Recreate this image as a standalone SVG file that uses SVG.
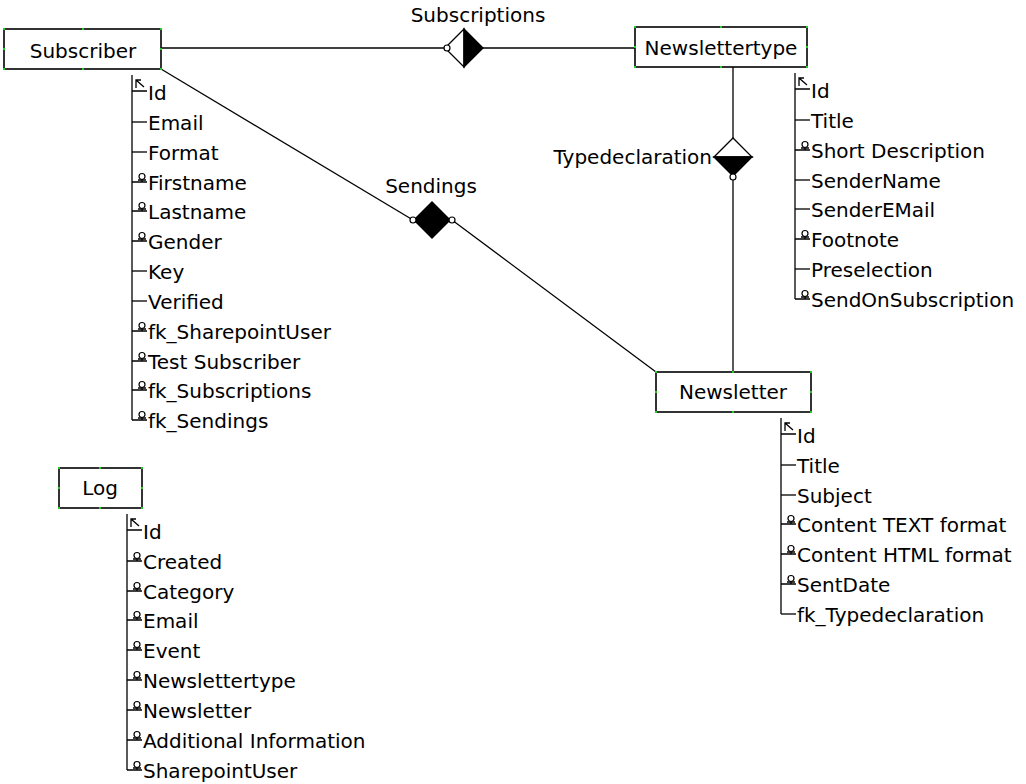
<svg xmlns="http://www.w3.org/2000/svg" xmlns:xlink="http://www.w3.org/1999/xlink" width="1026" height="784" viewBox="0 0 1026 784">
<style>
text{font-family:"DejaVu Sans","Liberation Sans",sans-serif;font-size:20px;fill:#000}
.box{fill:#fff;stroke:#000;stroke-width:1.6}
.ln{fill:none;stroke:#000;stroke-width:1.3}
.h{fill:#22cc22}
.c{text-anchor:middle}
.e{text-anchor:end}
</style>
<defs>
<g id="pk"><path class="ln" d="M0,0 H15 M4,-3 V-11 H9 M4,-11 L12,-4"/></g>
<g id="nl"><path class="ln" d="M0,0 H15 M10,-2.5 V0 M6,-2 H14"/><circle cx="10" cy="-5.5" r="3" fill="#fff" stroke="#000" stroke-width="1.2"/></g>
<g id="pl"><path class="ln" d="M0,0 H15"/></g>
</defs>

<g id="connectors">
  <g id="subscriptions">
    <line class="ln" x1="161" y1="48" x2="635" y2="48" stroke-width="1.6"/>
    <path d="M464,29 L445,48 L464,67 Z" fill="#fff" stroke="#000" stroke-width="1.3"/>
    <path d="M464,29 L483,48 L464,67 Z" fill="#000" stroke="#000" stroke-width="1.3"/>
    <circle cx="447" cy="48" r="3" fill="#fff" stroke="#000" stroke-width="1.2"/>
    <text class="c" x="478" y="22">Subscriptions</text>
  </g>
  <g id="typedeclaration">
    <line class="ln" x1="733" y1="67" x2="733" y2="372" stroke-width="1.6"/>
    <path d="M714,157 L733,138 L752,157 Z" fill="#fff" stroke="#000" stroke-width="1.3"/>
    <path d="M714,157 L733,176 L752,157 Z" fill="#000" stroke="#000" stroke-width="1.3"/>
    <circle cx="733" cy="177" r="3" fill="#fff" stroke="#000" stroke-width="1.2"/>
    <text class="e" x="712" y="164">Typedeclaration</text>
  </g>
  <g id="sendings">
    <line class="ln" x1="161" y1="69" x2="413" y2="220" stroke-width="1.1"/>
    <line class="ln" x1="452" y1="220" x2="656" y2="372" stroke-width="1.1"/>
    <path d="M432,201 L451,220 L432,239 L413,220 Z" fill="#000"/>
    <circle cx="413" cy="220" r="3" fill="#fff" stroke="#000" stroke-width="1.2"/>
    <circle cx="452" cy="220" r="3" fill="#fff" stroke="#000" stroke-width="1.2"/>
    <text class="c" x="431" y="193">Sendings</text>
  </g>
</g>

<g id="subscriber">
  <rect class="box" x="4" y="29" width="157" height="40"/>
  <g class="h"><rect x="3" y="28" width="2" height="2"/><rect x="82" y="28" width="2" height="2"/><rect x="160" y="28" width="2" height="2"/><rect x="3" y="48" width="2" height="2"/><rect x="160" y="48" width="2" height="2"/><rect x="3" y="68" width="2" height="2"/><rect x="82" y="68" width="2" height="2"/><rect x="160" y="68" width="2" height="2"/></g>
  <text class="c" x="83" y="58">Subscriber</text>
  <line class="ln" x1="132" y1="75" x2="132" y2="420"/>
  <use xlink:href="#pk" x="132" y="91"/><text x="148" y="100">Id</text>
  <use xlink:href="#pl" x="132" y="122"/><text x="148" y="130">Email</text>
  <use xlink:href="#pl" x="132" y="152"/><text x="148" y="160">Format</text>
  <use xlink:href="#nl" x="132" y="182"/><text x="148" y="190">Firstname</text>
  <use xlink:href="#nl" x="132" y="211"/><text x="148" y="219">Lastname</text>
  <use xlink:href="#nl" x="132" y="241"/><text x="148" y="249">Gender</text>
  <use xlink:href="#pl" x="132" y="271"/><text x="148" y="279">Key</text>
  <use xlink:href="#pl" x="132" y="301"/><text x="148" y="309">Verified</text>
  <use xlink:href="#nl" x="132" y="331"/><text x="148" y="339">fk_SharepointUser</text>
  <use xlink:href="#nl" x="132" y="361"/><text x="148" y="369">Test Subscriber</text>
  <use xlink:href="#nl" x="132" y="390"/><text x="148" y="398">fk_Subscriptions</text>
  <use xlink:href="#nl" x="132" y="420"/><text x="148" y="428">fk_Sendings</text>
</g>

<g id="newslettertype">
  <rect class="box" x="635" y="27" width="172" height="40"/>
  <g class="h"><rect x="634" y="26" width="2" height="2"/><rect x="720" y="26" width="2" height="2"/><rect x="806" y="26" width="2" height="2"/><rect x="634" y="46" width="2" height="2"/><rect x="806" y="46" width="2" height="2"/><rect x="634" y="66" width="2" height="2"/><rect x="720" y="66" width="2" height="2"/><rect x="806" y="66" width="2" height="2"/></g>
  <text class="c" x="721" y="55">Newslettertype</text>
  <line class="ln" x1="795" y1="73" x2="795" y2="299"/>
  <use xlink:href="#pk" x="795" y="89"/><text x="811" y="98">Id</text>
  <use xlink:href="#pl" x="795" y="120"/><text x="811" y="128">Title</text>
  <use xlink:href="#nl" x="795" y="150"/><text x="811" y="158">Short Description</text>
  <use xlink:href="#pl" x="795" y="180"/><text x="811" y="188">SenderName</text>
  <use xlink:href="#pl" x="795" y="209"/><text x="811" y="217">SenderEMail</text>
  <use xlink:href="#nl" x="795" y="239"/><text x="811" y="247">Footnote</text>
  <use xlink:href="#pl" x="795" y="269"/><text x="811" y="277">Preselection</text>
  <use xlink:href="#nl" x="795" y="299"/><text x="811" y="307">SendOnSubscription</text>
</g>

<g id="newsletter">
  <rect class="box" x="656" y="372" width="155" height="40"/>
  <g class="h"><rect x="655" y="371" width="2" height="2"/><rect x="732" y="371" width="2" height="2"/><rect x="810" y="371" width="2" height="2"/><rect x="655" y="391" width="2" height="2"/><rect x="810" y="391" width="2" height="2"/><rect x="655" y="411" width="2" height="2"/><rect x="732" y="411" width="2" height="2"/><rect x="810" y="411" width="2" height="2"/></g>
  <text class="c" x="733" y="399">Newsletter</text>
  <line class="ln" x1="781" y1="418" x2="781" y2="614"/>
  <use xlink:href="#pk" x="781" y="434"/><text x="797" y="443">Id</text>
  <use xlink:href="#pl" x="781" y="465"/><text x="797" y="473">Title</text>
  <use xlink:href="#pl" x="781" y="495"/><text x="797" y="503">Subject</text>
  <use xlink:href="#nl" x="781" y="524"/><text x="797" y="532">Content TEXT format</text>
  <use xlink:href="#nl" x="781" y="554"/><text x="797" y="562">Content HTML format</text>
  <use xlink:href="#nl" x="781" y="584"/><text x="797" y="592">SentDate</text>
  <use xlink:href="#pl" x="781" y="614"/><text x="797" y="622">fk_Typedeclaration</text>
</g>

<g id="log">
  <rect class="box" x="59" y="468" width="83" height="40"/>
  <g class="h"><rect x="58" y="467" width="2" height="2"/><rect x="99" y="467" width="2" height="2"/><rect x="141" y="467" width="2" height="2"/><rect x="58" y="487" width="2" height="2"/><rect x="141" y="487" width="2" height="2"/><rect x="58" y="507" width="2" height="2"/><rect x="99" y="507" width="2" height="2"/><rect x="141" y="507" width="2" height="2"/></g>
  <text class="c" x="100" y="495">Log</text>
  <line class="ln" x1="127" y1="514" x2="127" y2="770"/>
  <use xlink:href="#pk" x="127" y="530"/><text x="143" y="539">Id</text>
  <use xlink:href="#nl" x="127" y="561"/><text x="143" y="569">Created</text>
  <use xlink:href="#nl" x="127" y="591"/><text x="143" y="599">Category</text>
  <use xlink:href="#nl" x="127" y="620"/><text x="143" y="628">Email</text>
  <use xlink:href="#nl" x="127" y="650"/><text x="143" y="658">Event</text>
  <use xlink:href="#nl" x="127" y="680"/><text x="143" y="688">Newslettertype</text>
  <use xlink:href="#nl" x="127" y="710"/><text x="143" y="718">Newsletter</text>
  <use xlink:href="#nl" x="127" y="740"/><text x="143" y="748">Additional Information</text>
  <use xlink:href="#nl" x="127" y="770"/><text x="143" y="778">SharepointUser</text>
</g>
</svg>
